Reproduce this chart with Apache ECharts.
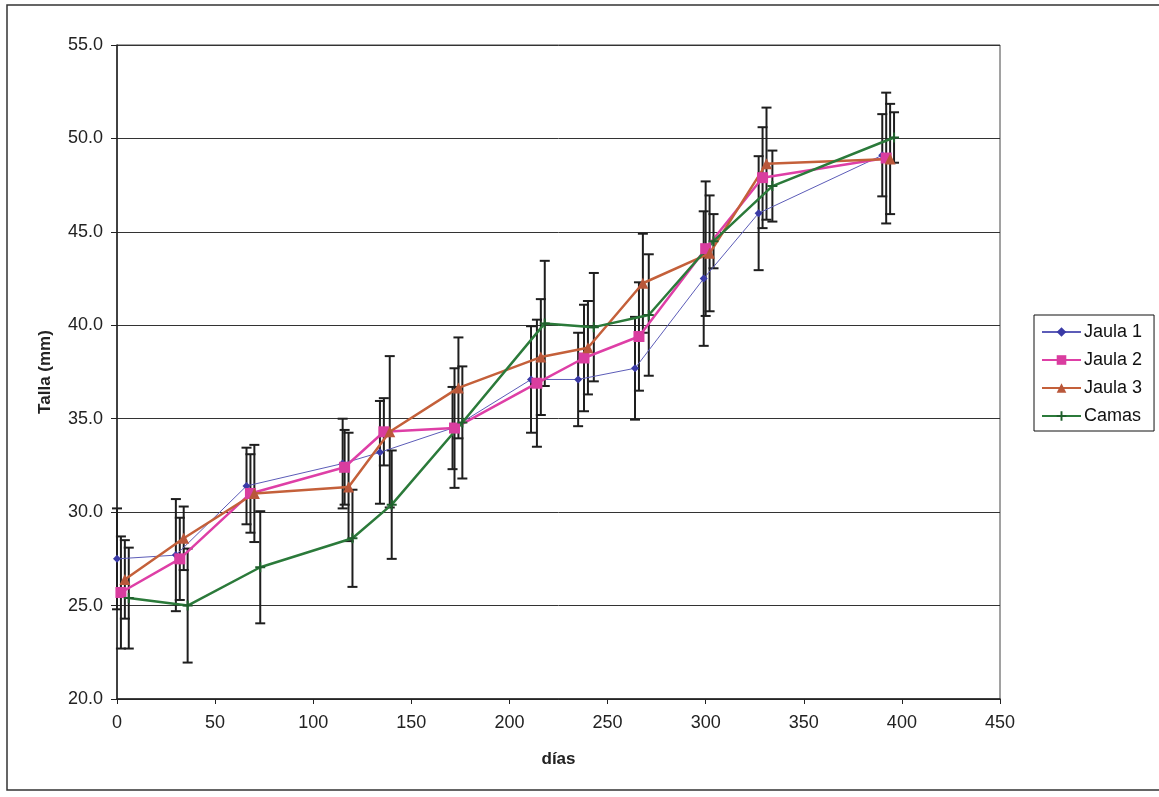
<!DOCTYPE html>
<html>
<head>
<meta charset="utf-8">
<script src="https://cdn.jsdelivr.net/npm/echarts@6/dist/echarts.min.js"></script>
<style>
  html, body { margin: 0; padding: 0; background: #fff; }
  #main { width: 1159px; height: 797px; }
</style>
</head>
<body>
<div id="main"></div>
<script>
  // días de muestreo y talla media (mm) con su desviación
  var dias1 = [0, 30, 66, 115, 134, 171, 211, 235, 264, 299, 327, 390];
  var talla1 = [27.5, 27.7, 31.4, 32.6, 33.2, 34.5, 37.1, 37.1, 37.7, 42.5, 46.0, 49.1];
  var err1 = [2.7, 3.0, 2.05, 2.4, 2.75, 2.2, 2.85, 2.5, 2.75, 3.6, 3.05, 2.2];

  var dias2 = [2, 32, 68, 116, 136, 172, 214, 238, 266, 300, 329, 392];
  var talla2 = [25.7, 27.5, 31.0, 32.4, 34.3, 34.5, 36.9, 38.25, 39.4, 44.1, 47.9, 48.95];
  var err2 = [3.0, 2.2, 2.1, 2.0, 1.8, 3.2, 3.4, 2.85, 2.9, 3.6, 2.7, 3.5];

  var dias3 = [4, 34, 70, 118, 139, 174, 216, 240, 268, 302, 331, 394];
  var talla3 = [26.4, 28.6, 31.0, 31.35, 34.3, 36.65, 38.3, 38.8, 42.25, 43.85, 48.65, 48.9];
  var err3 = [2.1, 1.7, 2.6, 2.9, 4.05, 2.7, 3.1, 2.5, 2.65, 3.1, 3.0, 2.95];

  var diasC = [6, 36, 73, 120, 140, 176, 218, 243, 271, 304, 334, 396];
  var tallaC = [25.4, 25.0, 27.05, 28.6, 30.4, 34.8, 40.1, 39.9, 40.55, 44.5, 47.45, 50.05];
  var errC = [2.7, 3.05, 3.0, 2.6, 2.9, 3.0, 3.35, 2.9, 3.25, 1.45, 1.9, 1.35];

  var yTicks = [20, 25, 30, 35, 40, 45, 50, 55];

  function pares(xs, ys) {
    return xs.map(function (x, i) { return [x, ys[i]]; });
  }
  function barras(xs, ys, es) {
    return xs.map(function (x, i) { return [x, ys[i] - es[i], ys[i] + es[i]]; });
  }

  function dibujaBarra(params, api) {
    var x = api.value(0);
    var lo = api.coord([x, api.value(1)]);
    var hi = api.coord([x, api.value(2)]);
    var w = 5;
    var st = { stroke: '#1e1e1e', lineWidth: 2 };
    return {
      type: 'group',
      children: [
        { type: 'line', shape: { x1: lo[0], y1: lo[1], x2: hi[0], y2: hi[1] }, style: st },
        { type: 'line', shape: { x1: hi[0] - w, y1: hi[1], x2: hi[0] + w, y2: hi[1] }, style: st },
        { type: 'line', shape: { x1: lo[0] - w, y1: lo[1], x2: lo[0] + w, y2: lo[1] }, style: st }
      ]
    };
  }

  var fuente = '"Liberation Sans", Arial, sans-serif';
  var chart = echarts.init(document.getElementById('main'));

  var option = {
    backgroundColor: '#ffffff',
    animation: false,
    textStyle: { fontFamily: fuente },
    graphic: [{
      type: 'rect',
      shape: { x: 7, y: 5, width: 1170, height: 785 },
      style: { fill: 'none', stroke: '#333', lineWidth: 1.5 },
      silent: true, z: -10
    }],
    grid: {
      left: 117, top: 45, right: 159, bottom: 98,
      show: true, borderColor: '#444', borderWidth: 1
    },
    legend: {
      data: ['Jaula 1', 'Jaula 2', 'Jaula 3', 'Camas'],
      orient: 'vertical',
      left: 1034, top: 315,
      padding: [8, 12, 6, 7],
      itemWidth: 39, itemHeight: 12, itemGap: 10,
      borderColor: '#111', borderWidth: 1,
      backgroundColor: '#fff',
      textStyle: { fontSize: 18, color: '#111', fontFamily: fuente, lineHeight: 18, padding: [0, 0, 0, -2] }
    },
    xAxis: {
      type: 'value', min: 0, max: 450, interval: 50,
      name: 'días', nameLocation: 'middle', nameGap: 52,
      nameTextStyle: { fontSize: 17, fontWeight: 'bold', color: '#222' },
      axisLine: { show: true, lineStyle: { color: '#222', width: 1.5 } },
      axisTick: { show: true, length: 5, lineStyle: { color: '#222' } },
      axisLabel: { fontSize: 18, color: '#222', margin: 15 },
      splitLine: { show: false }
    },
    yAxis: {
      type: 'value', min: yTicks[0], max: yTicks[yTicks.length - 1], interval: 5,
      name: 'Talla (mm)', nameLocation: 'middle', nameGap: 63,
      nameTextStyle: { fontSize: 17, fontWeight: 'bold', color: '#222' },
      axisLine: { show: true, lineStyle: { color: '#222', width: 1.5 } },
      axisTick: { show: true, length: 6, lineStyle: { color: '#222' } },
      axisLabel: { fontSize: 18, color: '#222', margin: 14, formatter: function (v) { return v.toFixed(1); } },
      splitLine: { show: true, lineStyle: { color: '#333', width: 1 } }
    },
    series: [
      { type: 'custom', renderItem: dibujaBarra, data: barras(dias1, talla1, err1), z: 2, silent: true },
      { type: 'custom', renderItem: dibujaBarra, data: barras(dias2, talla2, err2), z: 2, silent: true },
      { type: 'custom', renderItem: dibujaBarra, data: barras(dias3, talla3, err3), z: 2, silent: true },
      { type: 'custom', renderItem: dibujaBarra, data: barras(diasC, tallaC, errC), z: 2, silent: true },
      {
        name: 'Jaula 1', type: 'line', data: pares(dias1, talla1), z: 4,
        symbol: 'diamond', symbolSize: 8,
        lineStyle: { color: '#5c5cb8', width: 1 },
        itemStyle: { color: '#3a3aa6' }
      },
      {
        name: 'Jaula 2', type: 'line', data: pares(dias2, talla2), z: 5,
        symbol: 'rect', symbolSize: 11,
        lineStyle: { color: '#de3fa6', width: 2.5 },
        itemStyle: { color: '#d93d9f' }
      },
      {
        name: 'Jaula 3', type: 'line', data: pares(dias3, talla3), z: 5,
        symbol: 'triangle', symbolSize: 11,
        lineStyle: { color: '#c4603a', width: 2.5 },
        itemStyle: { color: '#b9573a' }
      },
      {
        name: 'Camas', type: 'line', data: pares(diasC, tallaC), z: 5,
        symbol: 'path://M4,0H6V4H10V6H6V10H4V6H0V4H4Z', symbolSize: 10,
        lineStyle: { color: '#2b7a3a', width: 2.5 },
        itemStyle: { color: '#1f5f2c' }
      }
    ]
  };

  chart.setOption(option);
</script>
</body>
</html>
